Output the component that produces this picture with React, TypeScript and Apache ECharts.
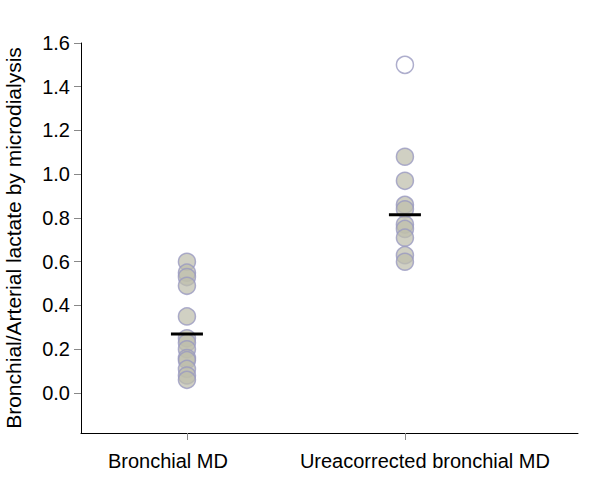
import React, { useEffect, useRef } from "react";
import * as echarts from "echarts";

const categories = ["Bronchial MD", "Ureacorrected bronchial MD"];
const bronchialValues = [0.60, 0.55, 0.53, 0.49, 0.35, 0.25, 0.23, 0.20, 0.16, 0.15, 0.11, 0.08, 0.06];
const ureaValues = [1.08, 0.97, 0.86, 0.84, 0.77, 0.75, 0.71, 0.63, 0.60];
const ureaOutlier = [1.50];
const centralValues = [0.27, 0.815];
const yTicks = [0, 0.2, 0.4, 0.6, 0.8, 1.0, 1.2, 1.4, 1.6];

export default function App() {
  const ref = useRef<HTMLDivElement>(null);
  useEffect(() => {
    if (!ref.current) return;
    const chart = echarts.init(ref.current, null, { renderer: "svg" });
    const font = "Liberation Sans, Arial, sans-serif";
    const pointStyle = {
      color: "rgba(190,190,172,0.9)",
      borderColor: "#9a9ac0",
      borderWidth: 1.5,
    };
    const labelText = { fontSize: 20, color: "#000", fontFamily: font };
    chart.setOption({
      animation: false,
      grid: { left: 81, top: 43, right: 22, bottom: 51, outerBoundsMode: "none", containLabel: false },
      xAxis: {
        type: "value",
        min: 0.514,
        max: 2.794,
        splitLine: { show: false },
        axisLine: { show: true, onZero: false, lineStyle: { color: "#000", width: 1 } },
        axisTick: {
          show: true,
          length: 7,
          customValues: [1, 2],
          lineStyle: { color: "#888" },
        },
        axisLabel: {
          customValues: [1, 2],
          margin: 18,
          ...labelText,
          formatter: (v: number) => {
            const i = Math.round(v) - 1;
            return i === 0 ? `{a|${categories[0]}}` : `{b|${categories[1]}}`;
          },
          rich: {
            a: { ...labelText, padding: [0, 38, 0, 0] },
            b: { ...labelText, padding: [0, 0, 0, 40] },
          },
        },
      },
      yAxis: {
        type: "value",
        min: -0.183,
        max: 1.6,
        name: "Bronchial/Arterial lactate by microdialysis",
        nameLocation: "middle",
        nameGap: 57,
        nameTextStyle: { fontSize: 21, color: "#000", fontFamily: font },
        splitLine: { show: false },
        axisLine: { show: true, onZero: false, lineStyle: { color: "#000", width: 1 } },
        axisTick: {
          show: true,
          length: 7,
          customValues: yTicks,
          lineStyle: { color: "#888" },
        },
        axisLabel: {
          customValues: yTicks,
          margin: 11,
          ...labelText,
          formatter: (v: number) => v.toFixed(1),
        },
      },
      series: [
        {
          type: "scatter",
          symbol: "circle",
          symbolSize: 17,
          itemStyle: pointStyle,
          data: bronchialValues.map((v) => [1, v]),
          z: 2,
        },
        {
          type: "scatter",
          symbol: "circle",
          symbolSize: 17,
          itemStyle: pointStyle,
          data: ureaValues.map((v) => [2, v]),
          z: 2,
        },
        {
          type: "scatter",
          symbol: "circle",
          symbolSize: 17,
          itemStyle: { color: "#fff", borderColor: "#9a9ac0", borderWidth: 1.5 },
          data: ureaOutlier.map((v) => [2, v]),
          z: 2,
        },
        {
          type: "scatter",
          symbol: "rect",
          symbolSize: [32, 3],
          itemStyle: { color: "#000", opacity: 1 },
          emphasis: { disabled: true },
          data: centralValues.map((v, i) => [i + 1, v]),
          z: 5,
        },
      ],
    });
    return () => chart.dispose();
  }, []);
  return (
    <div
      ref={ref}
      style={{ position: "absolute", left: 0, top: 0, width: 600, height: 484 }}
    />
  );
}
